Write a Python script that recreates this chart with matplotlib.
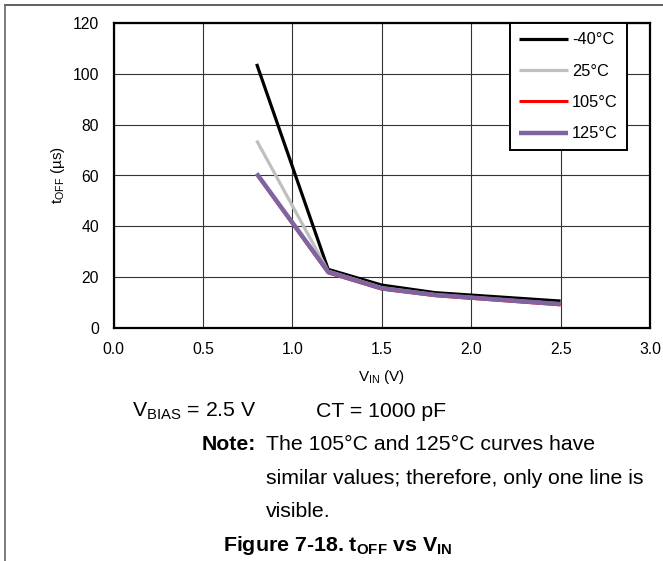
import matplotlib
matplotlib.use('Agg')
import matplotlib.pyplot as plt
from matplotlib.lines import Line2D

plt.rcParams['font.family'] = ['Liberation Sans', 'DejaVu Sans']
plt.rcParams['mathtext.fontset'] = 'custom'
plt.rcParams['mathtext.rm'] = 'Liberation Sans'
plt.rcParams['mathtext.it'] = 'Liberation Sans:italic'
plt.rcParams['mathtext.bf'] = 'Liberation Sans:bold'

# input voltage (V)
vin = [0.8, 1.2, 1.5, 1.8, 2.5]
# t_OFF (us) per temperature
toff_m40 = [104.0, 23.0, 16.8, 13.8, 10.5]
toff_25 = [73.8, 22.3, 15.8, 13.0, 9.4]
toff_105 = [60.5, 21.6, 15.2, 12.6, 9.0]
toff_125 = [60.8, 22.0, 15.5, 12.9, 9.3]
labels = ['-40°C', '25°C', '105°C', '125°C']
colors = ['#000000', '#BFBFBF', '#FF0000', '#8064A2']
widths = [2.3, 2.3, 2.2, 3.2]

xticks = [0.0, 0.5, 1.0, 1.5, 2.0, 2.5, 3.0]
yticks = [0, 20, 40, 60, 80, 100, 120]

W, H = 663, 561
fig = plt.figure(figsize=(W / 100, H / 100), dpi=100)
ax = fig.add_axes([113.6 / W, 1 - 327.7 / H, 536.4 / W, 304.4 / H])

series = [toff_m40, toff_25, toff_105, toff_125]
for ys, lab, c, lw in zip(series, labels, colors, widths):
    ax.plot(vin, ys, color=c, lw=lw, label=lab, solid_capstyle='butt')

ax.set_xlim(0, 3.0)
ax.set_ylim(0, 120)
ax.set_xticks(xticks)
ax.set_xticklabels([f'{t:.1f}' for t in xticks])
ax.set_yticks(yticks)
ax.tick_params(length=0, labelsize=11.3, pad=10.5)
ax.tick_params(axis='x', pad=10)
ax.grid(True, color='#333333', lw=0.8)
ax.set_axisbelow(True)
for sp in ax.spines.values():
    sp.set_linewidth(1.6)
    sp.set_color('black')

leg = ax.legend(loc='upper right', bbox_to_anchor=(0.957, 1.0), borderaxespad=0,
                fontsize=11.8, handlelength=3.0, handletextpad=0.25,
                labelspacing=1.0, borderpad=0.55, fancybox=False,
                framealpha=1, edgecolor='black')
leg.get_frame().set_linewidth(1.4)

fig.text(58 / W, 1 - 175 / H, r'$\mathregular{t_{OFF}}$ (µs)', rotation=90,
         ha='center', va='center', fontsize=11)
fig.text(382 / W, 1 - 377 / H, r'$\mathregular{V_{IN}}$ (V)',
         ha='center', va='center', fontsize=11)

fs = 15.3
fig.text(131.7 / W, 1 - 417 / H, r'$\mathregular{V_{BIAS}}$ = 2.5 V',
         ha='left', va='baseline', fontsize=fs)
fig.text(316 / W, 1 - 417 / H, 'CT = 1000 pF',
         ha='left', va='baseline', fontsize=fs)
fig.text(201.7 / W, 1 - 450 / H, 'Note:', fontweight='bold',
         ha='left', va='baseline', fontsize=fs)
note = ['The 105°C and 125°C curves have',
        'similar values; therefore, only one line is',
        'visible.']
for i, line in enumerate(note):
    fig.text(266 / W, 1 - (450 + 33.7 * i) / H, line,
             ha='left', va='baseline', fontsize=fs)
fig.text(337.5 / W, 1 - 551 / H,
         r'Figure 7-18. t$\mathregular{_{OFF}}$ vs V$\mathregular{_{IN}}$',
         fontweight='bold', ha='center', va='baseline', fontsize=15.4)

# page frame lines
fig.add_artist(Line2D([4.5 / W, 1], [1 - 4.5 / H, 1 - 4.5 / H],
                      transform=fig.transFigure, color='#444444', lw=1.2))
fig.add_artist(Line2D([4.5 / W, 4.5 / W], [0, 1 - 4.5 / H],
                      transform=fig.transFigure, color='#666666', lw=1.2))

fig.savefig('out.png', dpi=100)
